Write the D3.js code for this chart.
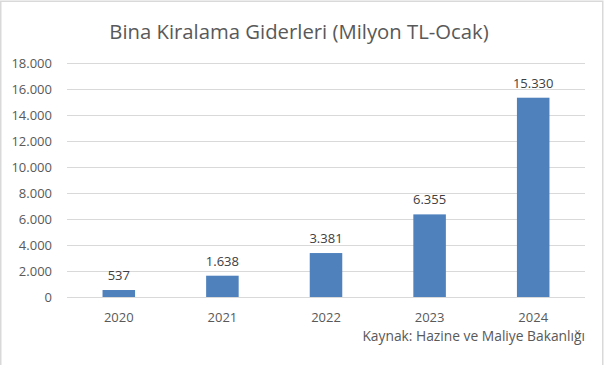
<!DOCTYPE html>
<meta charset="utf-8">
<style>
body { margin: 0; background: #fff; }
text { font-family: "Open Sans", "Noto Sans", sans-serif; }
</style>
<body>
<script src="https://d3js.org/d3.v7.min.js"></script>
<script>
var years = ["2020", "2021", "2022", "2023", "2024"];
var values = [537, 1638, 3381, 6355, 15330];
var valueLabels = ["537", "1.638", "3.381", "6.355", "15.330"];
var yTicks = [0, 2000, 4000, 6000, 8000, 10000, 12000, 14000, 16000, 18000];
var title = "Bina Kiralama Giderleri (Milyon TL-Ocak)";
var source = "Kaynak: Hazine ve Maliye Bakanlığı";

var width = 606, height = 365;
var margin = {top: 63, right: 21, bottom: 68, left: 67};

var svg = d3.select("body").append("svg")
    .attr("width", width)
    .attr("height", height);

// chart frame
svg.append("path")
    .attr("d", "M0.75," + height + "V1.25H602.75V" + height)
    .attr("fill", "none")
    .attr("stroke", "#d9d9d9")
    .attr("stroke-width", 1.5);

var x = d3.scaleBand()
    .domain(years)
    .range([margin.left, width - margin.right])
    .paddingInner(0.686)
    .paddingOuter(0.343);

var y = d3.scaleLinear()
    .domain([0, 18000])
    .range([height - margin.bottom, margin.top]);

// gridlines
svg.append("g")
  .selectAll("line")
  .data(yTicks)
  .join("line")
    .attr("x1", margin.left)
    .attr("x2", width - margin.right)
    .attr("y1", function(d) { return Math.round(y(d)) + 0.5; })
    .attr("y2", function(d) { return Math.round(y(d)) + 0.5; })
    .attr("stroke", "#d9d9d9")
    .attr("stroke-width", 1);

// y axis labels
var fmt = function(d) { return d3.format(",")(d).replace(/,/g, "."); };
svg.append("g")
  .selectAll("text")
  .data(yTicks)
  .join("text")
    .attr("x", 52)
    .attr("y", function(d) { return y(d); })
    .attr("dy", "0.35em")
    .attr("text-anchor", "end")
    .attr("font-size", 13)
    .attr("fill", "#595959")
    .text(fmt);

// bars
svg.append("g")
  .selectAll("rect")
  .data(values)
  .join("rect")
    .attr("x", function(d, i) { return x(years[i]); })
    .attr("width", x.bandwidth())
    .attr("y", function(d) { return y(d); })
    .attr("height", function(d) { return y(0) - y(d); })
    .attr("fill", "#4f81bd");

// value labels
svg.append("g")
  .selectAll("text")
  .data(values)
  .join("text")
    .attr("x", function(d, i) { return x(years[i]) + x.bandwidth() / 2; })
    .attr("y", function(d) { return y(d) - 10; })
    .attr("text-anchor", "middle")
    .attr("font-size", 13)
    .attr("fill", "#404040")
    .text(function(d, i) { return valueLabels[i]; });

// x axis labels
svg.append("g")
  .selectAll("text")
  .data(years)
  .join("text")
    .attr("x", function(d) { return x(d) + x.bandwidth() / 2; })
    .attr("y", 322)
    .attr("text-anchor", "middle")
    .attr("font-size", 13)
    .attr("fill", "#595959")
    .text(function(d) { return d; });

svg.append("text")
    .attr("x", 299)
    .attr("y", 38.5)
    .attr("text-anchor", "middle")
    .attr("font-size", 20.3)
    .attr("fill", "#595959")
    .text(title);

svg.append("text")
    .attr("x", 585)
    .attr("y", 341)
    .attr("text-anchor", "end")
    .attr("font-size", 13.8)
    .attr("fill", "#595959")
    .text(source);
</script>
</body>
</html>
